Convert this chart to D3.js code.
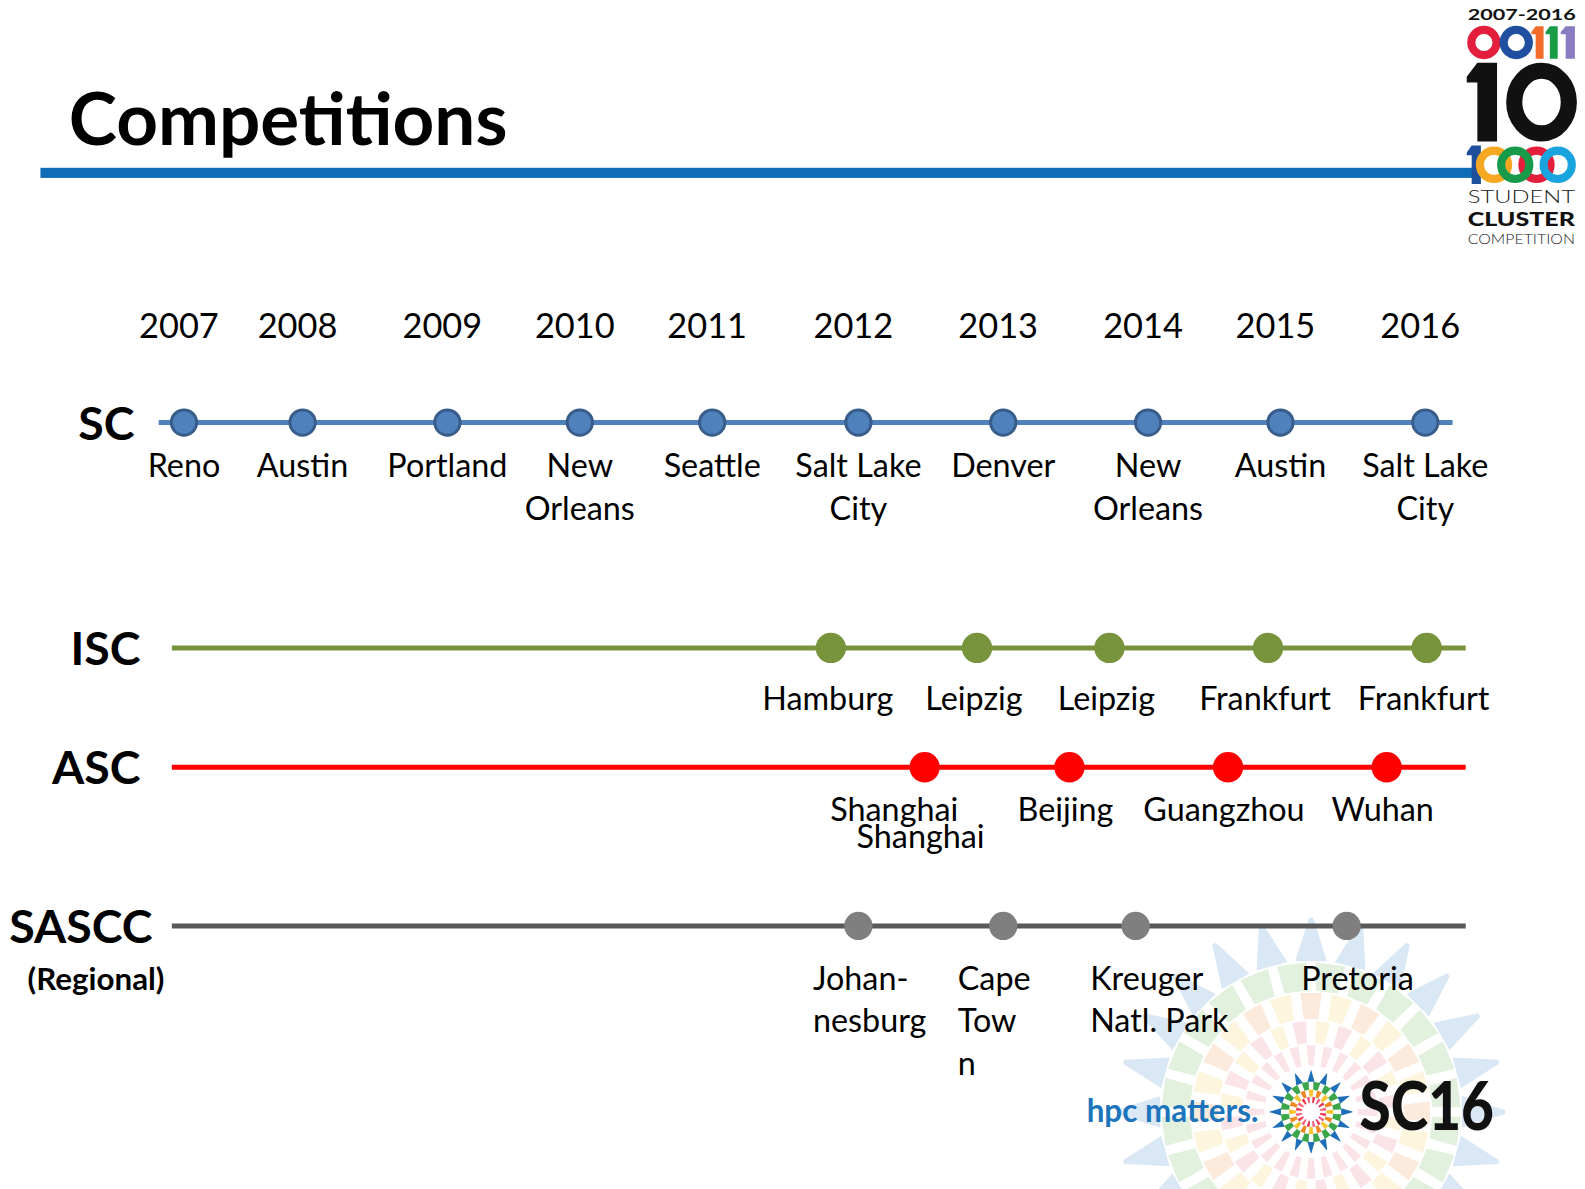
<!DOCTYPE html>
<html>
<head>
<meta charset="utf-8">
<title>Competitions</title>
<script src="https://cdn.jsdelivr.net/npm/d3@7"></script>
<style>
  html, body { margin: 0; padding: 0; background: #fff; }
  svg { display: block; font-family: Lato, "Open Sans", sans-serif; }
</style>
</head>
<body>
<div id="chart"></div>
<script>
// ---- data ----
const years = ["2007", "2008", "2009", "2010", "2011", "2012", "2013", "2014", "2015", "2016"];

// where each event sits on the timeline (in years)
const scAt = [2007.00, 2007.86, 2008.91, 2009.87, 2010.83, 2011.89, 2012.94, 2013.99, 2014.95, 2016.00];
const scCities = ["Reno", "Austin", "Portland", "New\nOrleans", "Seattle", "Salt Lake\nCity",
                  "Denver", "New\nOrleans", "Austin", "Salt Lake\nCity"];

const iscAt = [2011.69, 2012.75, 2013.71, 2014.86, 2016.01];
const iscCities = ["Hamburg", "Leipzig", "Leipzig", "Frankfurt", "Frankfurt"];

const ascAt = [2012.37, 2013.42, 2014.57, 2015.72];
const ascCities = ["Shanghai\nShanghai", "Beijing", "Guangzhou", "Wuhan"];

const sasccAt = [2011.89, 2012.94, 2013.90, 2015.43];
const sasccCities = ["Johan-\nnesburg", "Cape\nTow\nn", "Kreuger\nNatl. Park", "Pretoria"];

(function() {
  const width = 1585, height = 1189;
  const k = width / 1568; // layout below is measured on a 1568-wide slide

  const svg = d3.select("#chart").append("svg")
    .attr("width", width)
    .attr("height", height)
    .append("g")
    .attr("transform", `scale(${k})`);

  const x = d3.scaleLinear().domain([2007, 2016]).range([182, 1410]);

  // rows of the timeline (layout + style live here, values come from the arrays above)
  const rows = [
    { name: "SC", at: scAt, cities: scCities, y: 418, color: "#4F81BD", dot: "#4F81BD", stroke: "#385D8A",
      r: 12.5, x0: -25, x1: 27, nameX: 133, labelOff: 43, gap: 42, anchor: "middle", dx: 0, stagger: 0 },
    { name: "ISC", at: iscAt, cities: iscCities, y: 641, color: "#77933C", dot: "#77933C", stroke: null,
      r: 15, x0: -12, x1: 40, nameX: 139, labelOff: 50, gap: 42, anchor: "middle", dx: -3, stagger: 0 },
    { name: "ASC", at: ascAt, cities: ascCities, y: 759, color: "#FF0000", dot: "#FF0000", stroke: null,
      r: 15, x0: -12, x1: 40, nameX: 139, labelOff: 42, gap: 27, anchor: "middle", dx: -4, stagger: 26 },
    { name: "SASCC", at: sasccAt, cities: sasccCities, y: 916, color: "#595959", dot: "#7F7F7F", stroke: null,
      r: 14, x0: -12, x1: 40, nameX: 151, labelOff: 52, gap: 42, anchor: "start", dx: -45, stagger: 0 }
  ];

  // ---- watermark starburst (behind everything) ----
  function cells(g, cx, cy, n, r0, r1, w0, w1, rot, colors) {
    const step = 2 * Math.PI / n;
    const pt = (r, a) => [cx + r * Math.sin(a), cy - r * Math.cos(a)];
    g.selectAll(null)
      .data(d3.range(n))
      .join("polygon")
      .attr("points", i => {
        const a = rot + i * step;
        return [pt(r0, a - w0 * step), pt(r1, a - w1 * step), pt(r1, a + w1 * step), pt(r0, a + w0 * step)]
          .map(p => p.join(",")).join(" ");
      })
      .attr("fill", (d, i) => colors[i % colors.length]);
  }

  const wm = svg.append("g");
  const wcx = 1297, wcy = 1100;
  cells(wm, wcx, wcy, 24, 150, 192, 0.4, 0.04, 0, ["#DAE7F5"]);
  cells(wm, wcx, wcy, 24, 120, 148, 0.34, 0.38, Math.PI / 24, ["#E2F0DE"]);
  cells(wm, wcx, wcy, 24, 92, 118, 0.3, 0.34, 0, ["#FCEBDD", "#FEF5DE"]);
  cells(wm, wcx, wcy, 24, 68, 90, 0.26, 0.3, Math.PI / 24, ["#FEF5DE", "#FBE4E7"]);
  cells(wm, wcx, wcy, 24, 46, 66, 0.22, 0.26, 0, ["#FBE4E7"]);

  // ---- title ----
  svg.append("text")
    .attr("x", 68)
    .attr("y", 143)
    .attr("textLength", 434)
    .attr("lengthAdjust", "spacingAndGlyphs")
    .style("font-size", "72px")
    .style("font-weight", 700)
    .style("fill", "#000")
    .text("Competitions");

  svg.append("rect")
    .attr("x", 40).attr("y", 166)
    .attr("width", 1422).attr("height", 10)
    .attr("fill", "#0F6CB6");

  // ---- year labels ----
  svg.append("g")
    .selectAll("text")
    .data(years)
    .join("text")
    .attr("x", (d, i) => x(scAt[i]) - 5)
    .attr("y", 334)
    .attr("text-anchor", "middle")
    .style("font-size", "34px")
    .style("fill", "#000")
    .text(d => d);

  // ---- rows ----
  rows.forEach(row => {
    const g = svg.append("g");

    g.append("line")
      .attr("x1", x(2007) + row.x0)
      .attr("x2", x(2016) + row.x1)
      .attr("y1", row.y).attr("y2", row.y)
      .attr("stroke", row.color)
      .attr("stroke-width", 5);

    g.selectAll("circle")
      .data(row.at)
      .join("circle")
      .attr("cx", d => x(d))
      .attr("cy", row.y)
      .attr("r", row.r)
      .attr("fill", row.dot)
      .attr("stroke", row.stroke || "none")
      .attr("stroke-width", 3);

    const labels = g.selectAll("text.city")
      .data(row.at.map((t, i) => ({ t, lines: row.cities[i].split("\n") })))
      .join("text")
      .attr("class", "city")
      .attr("text-anchor", row.anchor)
      .attr("y", row.y + row.labelOff + 11)
      .style("font-size", "32px")
      .style("fill", "#000");

    labels.selectAll("tspan")
      .data(d => d.lines.map((s, i) => ({ s, i, n: d.lines.length, cx: x(d.t) })))
      .join("tspan")
      .attr("x", d => d.cx + row.dx + (d.i - (d.n - 1)) * row.stagger)
      .attr("dy", d => d.i === 0 ? 0 : row.gap)
      .text(d => d.s);

    g.append("text")
      .attr("x", row.nameX)
      .attr("y", row.y + 17)
      .attr("text-anchor", "end")
      .style("font-size", "46px")
      .style("font-weight", 700)
      .style("fill", "#000")
      .text(row.name);
  });

  svg.append("text")
    .attr("x", 95)
    .attr("y", 979)
    .attr("text-anchor", "middle")
    .style("font-size", "31px")
    .style("font-weight", 700)
    .style("fill", "#000")
    .text("(Regional)");

  // ---- 10 years student cluster competition logo ----
  const logo = svg.append("g");
  logo.append("text")
    .attr("x", 1452).attr("y", 20)
    .attr("textLength", 107).attr("lengthAdjust", "spacingAndGlyphs")
    .style("font-size", "15px").style("font-weight", 700).style("fill", "#111")
    .text("2007-2016");

  const ring = (cx, cy, r, w, c) => logo.append("circle")
    .attr("cx", cx).attr("cy", cy).attr("r", r)
    .attr("fill", "none").attr("stroke", c).attr("stroke-width", w);
  const one = (x0, y0, w, h, c) => logo.append("path")
    .attr("d", `M${x0},${y0 + h * 0.18} L${x0 + w * 0.35},${y0} L${x0 + w},${y0} L${x0 + w},${y0 + h} L${x0 + w * 0.35},${y0 + h} L${x0 + w * 0.35},${y0 + h * 0.25} L${x0},${y0 + h * 0.25} Z`)
    .attr("fill", c);

  ring(1468, 42, 12.5, 8, "#E31E3C");
  ring(1500, 42, 12.5, 8, "#1F4F9E");
  one(1515, 26, 12, 32, "#F26B2A");
  one(1529, 26, 12, 32, "#1B9A48");
  one(1544, 26, 14, 32, "#8A7CC0");

  one(1451, 62, 30, 78, "#111");
  logo.append("ellipse")
    .attr("cx", 1525).attr("cy", 101).attr("rx", 27).attr("ry", 31)
    .attr("fill", "none").attr("stroke", "#111").attr("stroke-width", 16);

  one(1451, 144, 14, 38, "#1D4F9D");
  ring(1478, 163, 14, 8, "#F7A823");
  ring(1520, 163, 14, 8, "#E41F3C");
  ring(1499, 163, 14, 8, "#179A4A");
  ring(1541, 163, 14, 8, "#1AA4DD");

  logo.append("text")
    .attr("x", 1452).attr("y", 201)
    .attr("textLength", 106).attr("lengthAdjust", "spacingAndGlyphs")
    .style("font-size", "18px").style("font-weight", 300).style("fill", "#222")
    .text("STUDENT");
  logo.append("text")
    .attr("x", 1452).attr("y", 224)
    .attr("textLength", 106).attr("lengthAdjust", "spacingAndGlyphs")
    .style("font-size", "19px").style("font-weight", 900).style("fill", "#111")
    .text("CLUSTER");
  logo.append("text")
    .attr("x", 1452).attr("y", 241)
    .attr("textLength", 106).attr("lengthAdjust", "spacingAndGlyphs")
    .style("font-size", "13px").style("font-weight", 300).style("fill", "#222")
    .text("COMPETITION");

  // ---- hpc matters / SC16 logo ----
  const sc = svg.append("g");
  sc.append("text")
    .attr("x", 1075).attr("y", 1110)
    .attr("textLength", 170).attr("lengthAdjust", "spacingAndGlyphs")
    .style("font-size", "32px").style("font-weight", 700).style("fill", "#1C74BB")
    .text("hpc matters.");

  cells(sc, wcx, wcy, 16, 30, 41, 0.3, 0.02, 0, ["#1F6FB8"]);
  cells(sc, wcx, wcy, 16, 22, 30, 0.26, 0.3, Math.PI / 16, ["#3BA64A"]);
  cells(sc, wcx, wcy, 16, 15, 22, 0.24, 0.28, 0, ["#F6C431", "#F08A24"]);
  cells(sc, wcx, wcy, 16, 9, 15, 0.2, 0.24, Math.PI / 16, ["#E8344E", "#F05C7A"]);

  sc.append("text")
    .attr("x", 1345).attr("y", 1118)
    .attr("textLength", 133).attr("lengthAdjust", "spacingAndGlyphs")
    .style("font-size", "66px").style("font-weight", 900).style("fill", "#111")
    .text("SC16");
})();
</script>
</body>
</html>
